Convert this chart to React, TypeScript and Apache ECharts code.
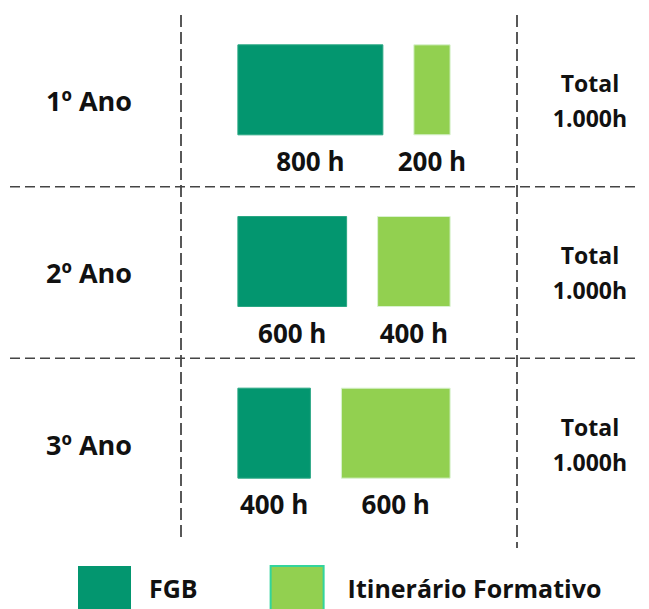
import React, { useEffect, useRef } from "react";
import * as echarts from "echarts";

const rows = ["1º Ano", "2º Ano", "3º Ano"];
const fgbHours = [800, 600, 400];
const ifHours = [200, 400, 600];
const seriesNames = ["FGB", "Itinerário Formativo"];

const FONT = "'Open Sans', 'Noto Sans', sans-serif";
const DARK = "#03966f";
const LIGHT = "#92d050";

const fmt = (n: number) => String(n).replace(/\B(?=(\d{3})+(?!\d))/g, ".");
const totals = rows.map((_, i) => fmt(fgbHours[i] + ifHours[i]) + "h");

export default function App() {
  const ref = useRef<HTMLDivElement>(null);
  useEffect(() => {
    if (!ref.current) return;
    const chart = echarts.init(ref.current, null, { renderer: "svg" });
    const data = rows.map((_, i) => [i, fgbHours[i], ifHours[i]]);
    const GAP = 31;
    const makeRender = (which: number) => (params: any, api: any) => {
      const i = api.value(0);
      const f = api.value(1);
      const t = api.value(2);
      const cy = api.coord([0, i])[1];
      const band = api.size([0, 1])[1];
      const w1 = api.size([f, 0])[0];
      const w2 = api.size([t, 0])[0];
      const cs = params.coordSys;
      const cx = cs.x + cs.width / 2 - 5;
      const start = cx - (w1 + GAP + w2) / 2;
      const top = cy - 56;
      const h = 90;
      const x = which === 0 ? start : start + w1 + GAP;
      const w = which === 0 ? w1 : w2;
      const val = which === 0 ? f : t;
      const children: any[] = [
        {
          type: "rect",
          shape: { x, y: top, width: w, height: h },
          style: {
            fill: which === 0 ? DARK : LIGHT,
            stroke: which === 0 ? "#2aa783" : "#d9f2d0",
            lineWidth: 1,
          },
        },
        {
          type: "text",
          style: {
            text: val + " h",
            x: x + w / 2,
            y: top + h + 26,
            align: "center",
            verticalAlign: "middle",
            fontSize: 26,
            fontWeight: "bold",
            fontFamily: FONT,
            fill: "#111",
          },
        },
      ];
      if (which === 0 && i < rows.length - 1) {
        const yb = cy + band / 2;
        children.push({
          type: "line",
          shape: { x1: 10, y1: yb, x2: 640, y2: yb },
          style: { stroke: "#444", lineWidth: 1.5, lineDash: [10, 5] },
        });
      }
      return { type: "group", children };
    };

    chart.setOption({
      animation: false,
      grid: { left: 181, right: 132, top: 15, bottom: 79 },
      xAxis: { type: "value", min: 0, max: 1854, show: false },
      yAxis: [
        {
          type: "category",
          data: rows,
          inverse: true,
          position: "left",
          axisLine: { show: false },
          axisTick: { show: false },
          splitLine: { show: false },
          axisLabel: {
            margin: 49,
            fontSize: 27,
            fontWeight: "bold",
            fontFamily: FONT,
            color: "#111",
          },
        },
        {
          type: "category",
          data: rows,
          inverse: true,
          position: "right",
          axisLine: { show: false },
          axisTick: { show: false },
          splitLine: { show: false },
          axisLabel: {
            margin: 73,
            align: "center",
            fontSize: 23,
            lineHeight: 35,
            fontWeight: "bold",
            fontFamily: FONT,
            color: "#111",
            formatter: (_v: string, idx: number) => "Total\n" + totals[idx],
          },
        },
      ],
      legend: {
        left: 78,
        top: 565,
        padding: 0,
        itemWidth: 53,
        itemHeight: 44,
        itemGap: 72,
        icon: "rect",
        textStyle: {
          fontSize: 25,
          lineHeight: 28,
          fontWeight: "bold",
          fontFamily: FONT,
          color: "#111",
        },
        data: [
          { name: seriesNames[0], textStyle: { padding: [5, 0, 0, 13] } },
          {
            name: seriesNames[1],
            itemStyle: { borderColor: "#33d49c", borderWidth: 2 },
            textStyle: { padding: [0, 0, 0, 19] },
          },
        ],
      },
      graphic: [
        {
          type: "line",
          shape: { x1: 181, y1: 15, x2: 181, y2: 540 },
          style: { stroke: "#222", lineWidth: 1.5, lineDash: [12, 5] },
        },
        {
          type: "line",
          shape: { x1: 517, y1: 15, x2: 517, y2: 548 },
          style: { stroke: "#222", lineWidth: 1.5, lineDash: [12, 5] },
        },
      ],
      series: [
        {
          name: seriesNames[0],
          type: "custom",
          itemStyle: { color: DARK },
          renderItem: makeRender(0),
          encode: { x: 1, y: 0 },
          data,
          clip: false,
          z: 2,
        },
        {
          name: seriesNames[1],
          type: "custom",
          itemStyle: { color: LIGHT },
          renderItem: makeRender(1),
          encode: { x: 2, y: 0 },
          data,
          clip: false,
          z: 2,
        },
      ],
    });
    return () => chart.dispose();
  }, []);
  return (
    <div
      ref={ref}
      style={{ position: "fixed", left: 0, top: 0, width: 649, height: 609, background: "#fff" }}
    />
  );
}
